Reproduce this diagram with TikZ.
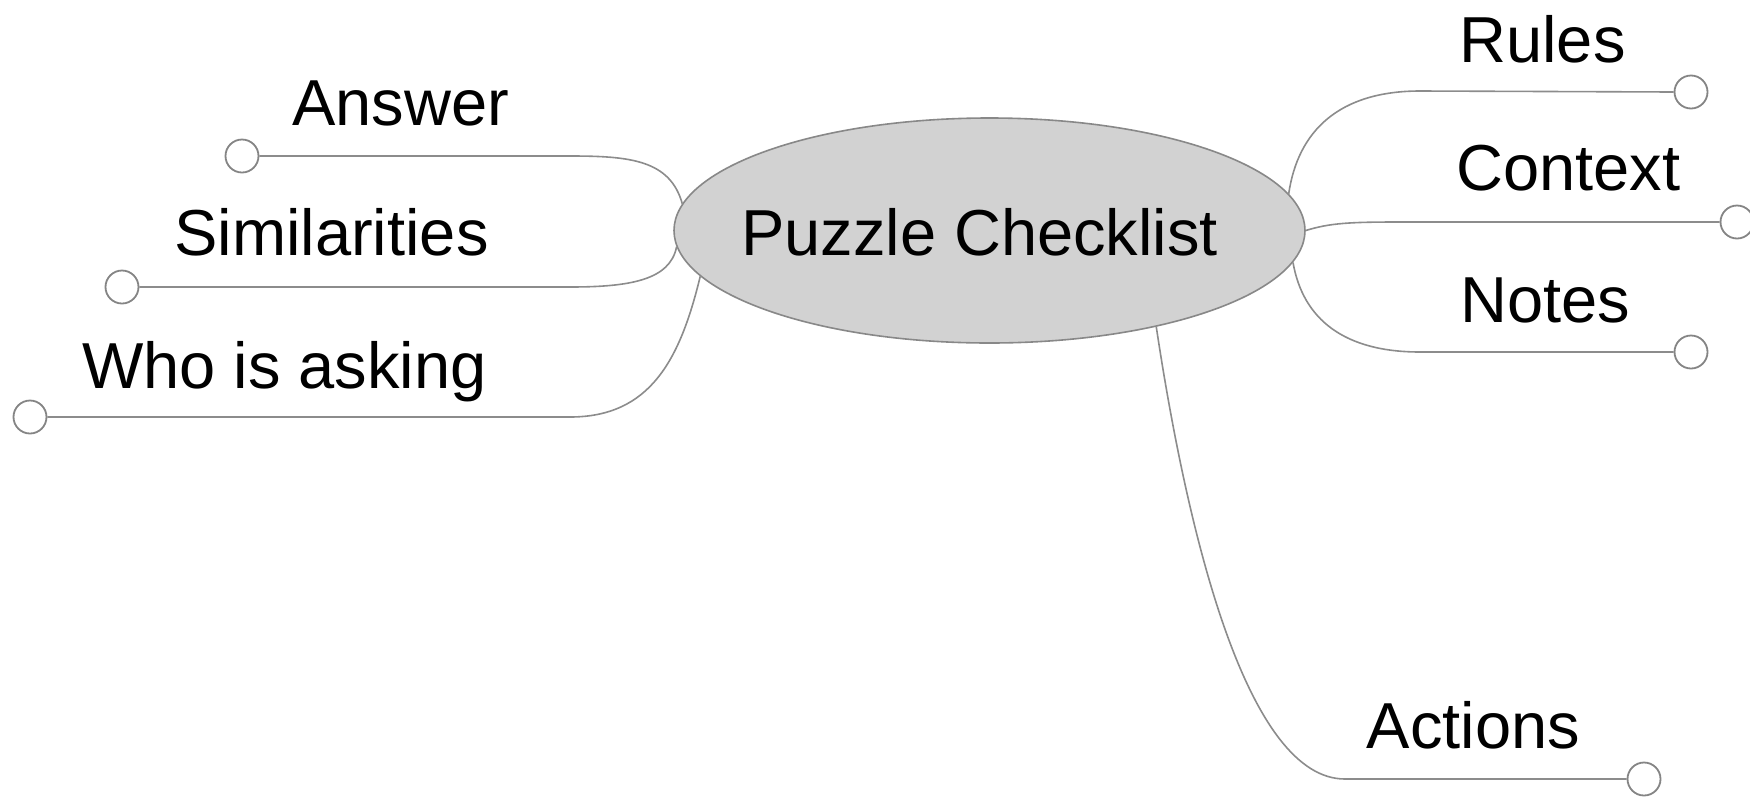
\documentclass[tikz,border=0pt]{standalone}
\usepackage{fontspec}
\setmainfont{Liberation Sans}
\usetikzlibrary{shapes.geometric}
\definecolor{linegray}{HTML}{8C8C8C}
\definecolor{ringgray}{HTML}{858585}
\definecolor{ellfill}{HTML}{D2D2D2}
\definecolor{ellline}{HTML}{888888}
\begin{document}
\begin{tikzpicture}[x=1pt,y=-1pt,
  branch/.style={draw=linegray,line width=1.6pt},
  dot/.style={circle,draw=ringgray,fill=white,line width=1.8pt,minimum size=33pt,inner sep=0pt},
  lbl/.style={anchor=base,inner sep=0pt,font=\fontsize{65}{78}\selectfont},
  hub/.style={ellipse,draw=ellline,fill=ellfill,line width=1.6pt,minimum width=631pt,minimum height=225pt,inner sep=0pt}
]
\useasboundingbox (0,0) rectangle (1750,796);
\fill[white] (0,0) rectangle (1750,796);

% central node
\node[hub] (pc) at (989.5,230.5) {};
\node[lbl] (pct) at (979.5,255) {Puzzle Checklist};

% end circles
\node[dot] (cA) at (242,156) {};
\node[dot] (cS) at (122,287) {};
\node[dot] (cW) at (30,417) {};
\node[dot] (cR) at (1691,92) {};
\node[dot] (cC) at (1737,222) {};
\node[dot] (cN) at (1691,352) {};
\node[dot] (cX) at (1644,779) {};

% labels
\node[lbl] (tA) at (400.5,125) {Answer};
\node[lbl] (tS) at (331.5,255) {Similarities};
\node[lbl] (tW) at (284.5,388) {Who is asking};
\node[lbl] (tR) at (1542.5,62) {Rules};
\node[lbl] (tC) at (1568.5,190) {Context};
\node[lbl] (tN) at (1545.5,322) {Notes};
\node[lbl] (tX) at (1473.5,748) {Actions};

% turning points of the branches
\coordinate (hA) at (570,156);
\coordinate (hS) at (570,287);
\coordinate (hW) at (570,417);
\coordinate (hR) at (1420,91);
\coordinate (hC) at (1400,222);
\coordinate (hN) at (1420,352);
\coordinate (hX) at (1345,779);

% connectors
\draw[branch] (pc.175.3) .. controls (670,160) and (630,156) .. (hA) -- (cA.east);
\draw[branch] (pc.183.6) .. controls (670,280) and (630,287) .. (hS) -- (cS.east);
\draw[branch] (pc.189.2) .. controls (680,360) and (650,417) .. (hW) -- (cW.east);
\draw[branch] (pc.7.8) .. controls (1298,130) and (1340,91) .. (hR) -- (cR.west);
\draw[branch] (pc.0.45) .. controls (1330,223) and (1350,222) .. (hC) -- (cC.west);
\draw[branch] (pc.-6.1) .. controls (1303,320) and (1345,352) .. (hN) -- (cN.west);
\draw[branch] (pc.-30.3) .. controls (1190,550) and (1250,779) .. (hX) -- (cX.west);
\end{tikzpicture}
\end{document}
